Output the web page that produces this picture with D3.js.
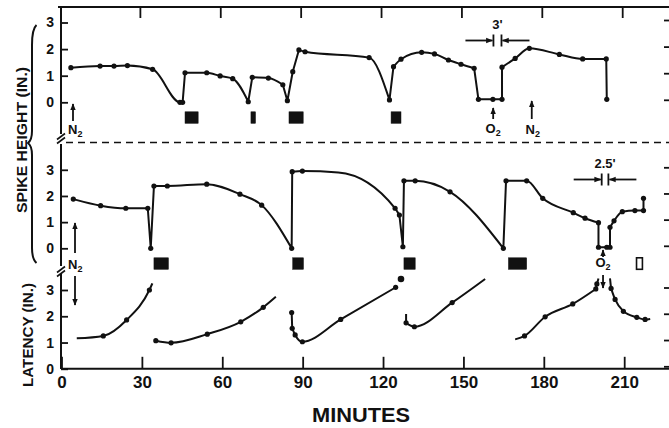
<!DOCTYPE html>
<html><head><meta charset="utf-8">
<script src="https://cdn.jsdelivr.net/npm/d3@7"></script>
<style>
body{margin:0;background:#fff}
text{font-family:"Liberation Sans",Arial,sans-serif;font-weight:bold;fill:#111}
</style>
</head><body>
<svg id="c" width="669" height="428"></svg>
<script>
// ---------- data ----------
const xTicks = [0, 30, 60, 90, 120, 150, 180, 210];
const yTicks = [0, 1, 2, 3];
// [minute, value, dot?(0 = no dot)]
const spikeTop = [[
  [3.5,1.30],[14.4,1.36],[19.6,1.36],[24.6,1.38],[34,1.24],[44.2,0.0],[45.2,0.0],
  [46.1,1.11],[54.2,1.11],[59.2,0.99],[63.9,0.89],[69.7,0.02],[71.2,0.94],[77.2,0.91],
  [82.6,0.66],[84.3,0.06],[86.3,1.15],[88.6,1.97],[90.9,1.90],[114.8,1.68],[122.4,0.09],
  [123.9,1.34],[126.7,1.62],[134.4,1.88],[139.2,1.82],[144.4,1.59],[149.1,1.43],[154,1.28],
  [155.6,0.11],[161,0.11],[164.4,0.11],[164.4,1.32],[169.3,1.65],[174.6,2.03],[185.8,1.80],
  [194.5,1.63],[203.3,1.63],[203.5,0.11]
]];
const spikeMid = [[
  [4.4,1.88],[14.6,1.63],[24,1.53],[32.2,1.53],[33.3,0.0],[34.5,2.38],[39.5,2.38],[54.2,2.45],
  [66.6,2.07],[74.7,1.65],[85.9,0.0],[86.1,2.93],[89.9,2.95],[103.3,2.90,0],[124.5,1.53],[126.1,1.27],
  [127.4,0.06],[127.8,2.58],[132,2.58],[145,2.16],[164.9,0.0],[165.9,2.58],[173.6,2.58],
  [179.6,1.91],[191,1.36],[195.4,1.15],[200.4,0.98],[200.4,0.04],[203.5,0.04],[204.7,0.04],
  [204.7,0.80],[206.2,1.05],[209.3,1.40],[214,1.44],[217.2,1.44],[217.2,1.91]
]];
const latency = [
  [[5.7,1.16,0],[15.6,1.25],[24.3,1.86],[32.8,3.0],[33.9,3.25,0]],
  [[35.2,1.07],[40.9,0.99],[54.4,1.32],[66.9,1.79],[75.3,2.34],[80,2.74,0]],
  [[85.9,2.14],[86.1,1.54],[87.2,1.29],[89.9,1.03],[104.2,1.88],[124.7,3.10]],
  [[128.6,2.09,0],[128.6,1.75],[131.7,1.60],[145.8,2.52],[158.1,3.42,0]],
  [[169.3,1.12,0],[172.8,1.25],[180.5,1.98],[190.8,2.47],[199.4,3.04],[199.8,3.23],[200.4,3.44,0]],
  [[204.7,3.44,0],[205.1,3.06],[206.6,2.64],[209.7,2.19],[214.7,1.96],[217.8,1.88],[219.7,1.90,0]]
];
const latencyLoneDot = [[126.7,3.42]];
const topBlocks = [[46.1,51],[70.7,72.4],[84.9,90.2],[123,126.7]];
const midBlocks = [[34.5,39.9],[86.3,90.3],[127.8,132],[166.8,173.6]];
const midOpenBlocks = [[214.6,216.8]];
const intervals = [{panel:"top", start:161.2, dur:3, label:"3'"}, {panel:"mid", start:201.6, dur:2.5, label:"2.5'"}];

// ---------- scales ----------
const svg = d3.select("#c");
const x = d3.scaleLinear().domain([0,210]).range([61.5,624.2]);
const yTop = d3.scaleLinear().domain([0,3]).range([102.3,22.5]);
const yMid = d3.scaleLinear().domain([0,3]).range([248.3,169.8]);
const yBot = d3.scaleLinear().domain([0,3]).range([368.8,290]);

const ink = "#111";
svg.append("defs").append("marker").attr("id","ah").attr("viewBox","0 0 10 10")
  .attr("refX",9).attr("refY",5).attr("markerWidth",7).attr("markerHeight",7)
  .attr("markerUnits","userSpaceOnUse").attr("orient","auto")
  .append("path").attr("d","M0,1L10,5L0,9Z").attr("fill",ink);

function arrow(x1,y1,x2,y2){
  svg.append("line").attr("x1",x1).attr("y1",y1).attr("x2",x2).attr("y2",y2)
    .attr("stroke",ink).attr("stroke-width",1.8).attr("marker-end","url(#ah)");
}
function gas(txt, sub, xx, yy, anchor){
  const t = svg.append("text").attr("x",xx).attr("y",yy).attr("font-size",13)
    .attr("text-anchor",anchor||"middle").text(txt);
  t.append("tspan").attr("font-size",9).attr("dy",3).text(sub);
}

// ---------- axes ----------
const bottomAx = svg.append("g").attr("transform","translate(0,368.8)")
  .call(d3.axisBottom(x).tickValues(xTicks).tickSizeInner(-12).tickSizeOuter(0).tickPadding(7));
bottomAx.select(".domain").remove();
bottomAx.selectAll("text").attr("font-size",17).style("font-family","'Liberation Sans',Arial,sans-serif").attr("font-weight","bold").attr("fill",ink);
bottomAx.selectAll("line").attr("stroke",ink).attr("stroke-width",1.8);
svg.append("line").attr("x1",61).attr("x2",669).attr("y1",368.8).attr("y2",368.8).attr("stroke",ink).attr("stroke-width",2);

const topAx = svg.append("g").attr("transform","translate(-2,7)")
  .call(d3.axisTop(x).tickValues(xTicks.slice(1)).tickSizeInner(-11).tickSizeOuter(0).tickFormat(""));
topAx.select(".domain").remove();
topAx.selectAll("line").attr("stroke",ink).attr("stroke-width",1.8);
svg.append("line").attr("x1",58).attr("x2",669).attr("y1",7).attr("y2",7).attr("stroke",ink).attr("stroke-width",2);

[[yTop,7,134],[yMid,144,266],[yBot,274,369]].forEach(([ys,a,b])=>{
  const g = svg.append("g").attr("transform","translate(61,0)")
    .call(d3.axisLeft(ys).tickValues(yTicks).tickFormat(d3.format("d")).tickSizeInner(-7).tickSizeOuter(0).tickPadding(7));
  g.select(".domain").remove();
  g.selectAll("line").attr("stroke",ink).attr("stroke-width",1.8);
  g.selectAll("text").attr("font-size",14).style("font-family","'Liberation Sans',Arial,sans-serif").attr("font-weight","bold").attr("fill",ink);
  svg.append("line").attr("x1",61).attr("x2",61).attr("y1",a).attr("y2",b).attr("stroke",ink).attr("stroke-width",2);
  const r = svg.append("g").attr("transform","translate(669,-2.5)")
    .call(d3.axisRight(ys).tickValues(yTicks).tickSizeInner(-5).tickSizeOuter(0).tickFormat(""));
  r.select(".domain").remove();
  r.selectAll("line").attr("stroke",ink).attr("stroke-width",1.8);
});
[136.5, 269.5].forEach(yy=>{
  [0,4].forEach(o=>svg.append("line").attr("x1",57).attr("y1",yy+o+3).attr("x2",65).attr("y2",yy+o-3)
    .attr("stroke",ink).attr("stroke-width",1.6));
});
svg.append("line").attr("x1",66).attr("x2",669).attr("y1",142.5).attr("y2",142.5)
  .attr("stroke",ink).attr("stroke-width",1.6).attr("stroke-dasharray","7,5");

// ---------- series ----------
// smooth runs are drawn with a monotone curve, steep jumps as straight lines
function drawSeries(segs, ys){
  const smooth = d3.line().x(d=>d[0]).y(d=>d[1]).curve(d3.curveMonotoneX);
  segs.forEach(s=>{
    const p = s.map(d=>[x(d[0]), ys(d[1])]);
    let d = "M" + p[0][0] + "," + p[0][1];
    let run = [p[0]];
    const flush = ()=>{
      if(run.length>1){ d += smooth(run).replace(/^M[^CLQ]*/,""); }
    };
    for(let i=1;i<p.length;i++){
      const dx = p[i][0]-p[i-1][0], dy = p[i][1]-p[i-1][1];
      const steep = dx < 0.01 || Math.abs(dy/dx) > 3;
      if(steep){ flush(); d += "L" + p[i][0] + "," + p[i][1]; run=[p[i]]; }
      else run.push(p[i]);
    }
    flush();
    svg.append("path").attr("d",d).attr("fill","none").attr("stroke",ink)
      .attr("stroke-width",2).attr("stroke-linejoin","round");
    svg.selectAll(null).data(s.filter(d=>d[2]!==0)).enter().append("circle")
      .attr("cx",d=>x(d[0])).attr("cy",d=>ys(d[1])).attr("r",2.6).attr("fill",ink);
  });
}
drawSeries(spikeTop, yTop);
drawSeries(spikeMid, yMid);
drawSeries(latency, yBot);
svg.selectAll(null).data(latencyLoneDot).enter().append("circle")
  .attr("cx",d=>x(d[0])).attr("cy",d=>yBot(d[1])).attr("r",3.3).attr("fill",ink);

function blocks(arr, ys, open){
  svg.selectAll(null).data(arr).enter().append("rect")
    .attr("x",d=>x(d[0])).attr("width",d=>x(d[1])-x(d[0]))
    .attr("y",ys(0)+9.5).attr("height",11.5)
    .attr("fill",open?"#fff":ink).attr("stroke",ink).attr("stroke-width",open?1.6:0.5);
}
blocks(topBlocks, yTop);
blocks(midBlocks, yMid);
blocks(midOpenBlocks, yMid, true);

intervals.forEach(iv=>{
  const x1 = x(iv.start), x2 = x(iv.start+iv.dur);
  const yy = iv.panel==="top"? 40.5 : 179.5;
  svg.append("line").attr("x1",x1).attr("x2",x1).attr("y1",yy-6).attr("y2",yy+6).attr("stroke",ink).attr("stroke-width",1.8);
  svg.append("line").attr("x1",x2).attr("x2",x2).attr("y1",yy-6).attr("y2",yy+6).attr("stroke",ink).attr("stroke-width",1.8);
  arrow(x1-28, yy, x1-1, yy);
  arrow(x2+28, yy, x2+1, yy);
  svg.append("text").attr("x",(x1+x2)/2).attr("y",yy-12).attr("text-anchor","middle")
    .attr("font-size",13).text(iv.label);
});

arrow(73,121,73,104); gas("N","2",68,134,"start");
arrow(x(161.1),119,x(161.1),108); gas("O","2",x(161.1),133);
arrow(x(175.5),119,x(175.5),101); gas("N","2",x(175.5)+1,134);
arrow(75,253,75,223); gas("N","2",68,269,"start"); arrow(75,276,75,305);
arrow(x(202.1),257,x(202.1),250); gas("O","2",x(202.1),267); arrow(x(202.1),275,x(202.1),288);

svg.append("text").attr("transform","translate(27,140) rotate(-90)").attr("text-anchor","middle")
  .attr("font-size",14.5).attr("textLength",146).attr("lengthAdjust","spacingAndGlyphs").text("SPIKE HEIGHT (IN.)");
svg.append("text").attr("transform","translate(32.5,335) rotate(-90)").attr("text-anchor","middle")
  .attr("font-size",14.5).attr("textLength",104).attr("lengthAdjust","spacingAndGlyphs").text("LATENCY (IN.)");
svg.append("text").attr("x",361).attr("y",421.5).attr("text-anchor","middle")
  .attr("font-size",20).attr("textLength",98).attr("lengthAdjust","spacingAndGlyphs").text("MINUTES");
svg.append("path").attr("d","M36.5,25 Q32,29 32,45 L32,131 Q32,140 28,143 Q32,146 32,155 L32,248 Q32,259 36.5,263")
  .attr("fill","none").attr("stroke",ink).attr("stroke-width",2);
</script>
</body></html>
